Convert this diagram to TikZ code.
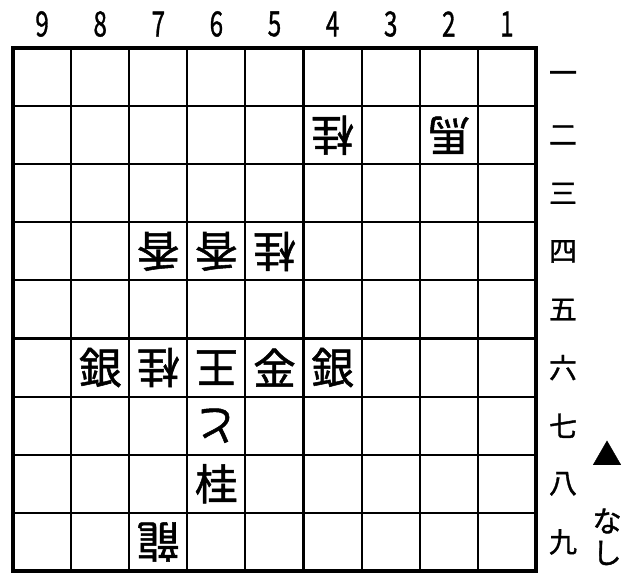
\documentclass[tikz,border=0pt]{standalone}
\usepackage{fontspec}
\setmainfont[FakeBold=1.2]{Noto Sans CJK JP}
\begin{document}
\begin{tikzpicture}[x=0.75pt,y=-0.75pt,
        piece/.style={font=\fontsize{32}{32}\selectfont, inner sep=0pt},
        gote/.style={piece, rotate=180},
        filemark/.style={font=\fontsize{26}{26}\selectfont, inner sep=0pt},
        rankmark/.style={font=\fontsize{21}{21}\selectfont, inner sep=0pt}]
        \useasboundingbox (0,0) rectangle (636,582);
        % board
        \foreach \i in {1,...,8} {
            \draw[line width=1.6pt] (13+58.1*\i,48) -- (13+58.1*\i,571);
            \draw[line width=1.6pt] (13,48+58.1*\i) -- (536,48+58.1*\i);
        }
        \draw[line width=3pt] (13,48) rectangle (536,571);

        % square centres
        \foreach \f in {1,...,9} {
            \foreach \r in {1,...,9} {
                \coordinate (s\f\r) at (536-58.1*\f+29,48+58.1*\r-29);
            }
        }

        % file and rank marks
        \foreach \f in {1,...,9} {
            \node[filemark] (f\f) at (536-58.1*\f+29,24) {\scalebox{0.7}[1]{\f}};
        }
        \foreach \r/\k in {1/一,2/二,3/三,4/四,5/五,6/六,7/七,8/八,9/九} {
            \node[rankmark] (r\r) at (563,48+58.1*\r-29) {\k};
        }

        % pieces
        \node[gote] (p42) at (s42) {桂};
        \node[gote] (p22) at (s22) {馬};
        \node[gote] (p74) at (s74) {香};
        \node[gote] (p64) at (s64) {香};
        \node[gote] (p54) at (s54) {桂};
        \node[piece] (p86) at (s86) {銀};
        \node[gote] (p76) at (s76) {桂};
        \node[gote] (p66) at (s66) {王};
        \node[piece] (p56) at (s56) {金};
        \node[piece] (p46) at (s46) {銀};
        \node[gote] (p67) at (s67) {と};
        \node[piece] (p68) at (s68) {桂};
        \node[gote] (p79) at (s79) {龍};

        % pieces in hand
        \node[rankmark, font=\fontsize{22}{22}\selectfont] (sente) at (607,453) {▲};
        \node[rankmark, font=\fontsize{22}{22}\selectfont] (na) at (607,521) {な};
        \node[rankmark, font=\fontsize{22}{22}\selectfont] (shi) at (607,553) {し};
    \end{tikzpicture}
\end{document}
